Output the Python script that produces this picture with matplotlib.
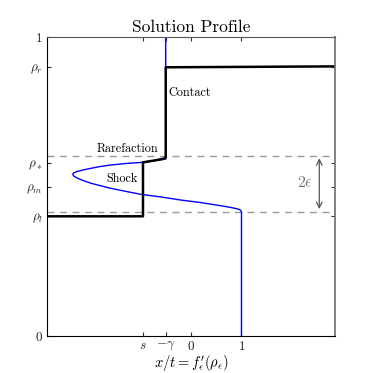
import matplotlib
matplotlib.use("Agg")
import matplotlib.pyplot as plt

plt.rcParams['font.family'] = 'cmr10'
plt.rcParams['mathtext.fontset'] = 'cm'
plt.rcParams['axes.formatter.use_mathtext'] = True

# characteristic speed curve x = f'_eps(rho)
speed_x = [-0.5, -0.5, -0.5, -0.75, -0.97, -1.3, -1.59, -1.8, -1.98, -2.15, -2.26, -2.32, -2.34,
           -2.32, -2.26, -2.15, -1.98, -1.8, -1.59, -1.3, -1.0, -0.6, -0.22, 0.2, 0.57, 0.78, 0.92,
           0.98, 1.0, 1.0]
speed_rho = [1.0, 0.604, 0.592, 0.586, 0.581, 0.577, 0.572, 0.567, 0.561, 0.555, 0.550, 0.546, 0.541,
             0.535, 0.529, 0.521, 0.511, 0.503, 0.494, 0.484, 0.474, 0.465, 0.455, 0.446, 0.436, 0.430,
             0.425, 0.421, 0.415, 0.0]

# solution profile (black)
sol_x = [-2.85, -0.95, -0.95, -0.7, -0.55, -0.5, -0.5, 2.85]
sol_rho = [0.4, 0.4, 0.581, 0.588, 0.593, 0.597, 0.9, 0.903]

band = [0.415, 0.604]

xticks = [-0.95, -0.5, 0, 1]
xlabels = ['$s$', r'$-\gamma$', '$0$', '$1$']
yticks = [0, 0.4, 0.5, 0.58, 0.9, 1]
ylabels = ['$0$', r'$\rho_l$', r'$\rho_m$', r'$\rho_*$', r'$\rho_r$', '$1$']

fig = plt.figure(figsize=(3.73, 3.73), dpi=100)
ax = fig.add_axes([0.126, 0.1005, 0.772, 0.799])

for b in band:
    ax.axhline(b, color='#999999', ls=(0, (5, 4)), lw=1.0)

ax.plot(speed_x, speed_rho, color='blue', lw=1.0)
ax.plot(sol_x, sol_rho, color='black', lw=1.8)

ax.annotate('', xy=(2.54, band[1]), xytext=(2.54, band[0]),
            arrowprops=dict(arrowstyle='<->', color='#555555', lw=0.9))
ax.text(2.25, 0.512, r'$2\epsilon$', color='#777777', fontsize=11.5, ha='center', va='center')

ax.text(-0.45, 0.813, 'Contact', fontsize=8.8, va='center')
ax.text(-1.87, 0.625, 'Rarefaction', fontsize=8.8, va='center')
ax.text(-1.68, 0.525, 'Shock', fontsize=8.8, va='center')

ax.set_xlim(-2.85, 2.85)
ax.set_ylim(0, 1)
ax.set_xticks(xticks)
ax.set_xticklabels(xlabels, fontsize=9.5)
ax.set_yticks(yticks)
ax.set_yticklabels(ylabels, fontsize=9.5)
ax.tick_params(direction='in', top=True, right=True, length=3, width=0.8, colors='#333333', pad=3)
ax.tick_params(labelcolor='#222222')

ax.spines['left'].set_color('black')
ax.spines['bottom'].set_color('black')
ax.spines['top'].set_color('#555555')
ax.spines['right'].set_color('#777777')
ax.spines['right'].set_linewidth(1.3)

ax.set_xlabel(r"$x/t = f_\epsilon^{\prime}(\rho_\epsilon)$", fontsize=10.5)
ax.xaxis.set_label_coords(0.5, -0.058)
ax.set_title('Solution Profile', fontsize=12.5, pad=4)

fig.savefig('out.png', dpi=100)
